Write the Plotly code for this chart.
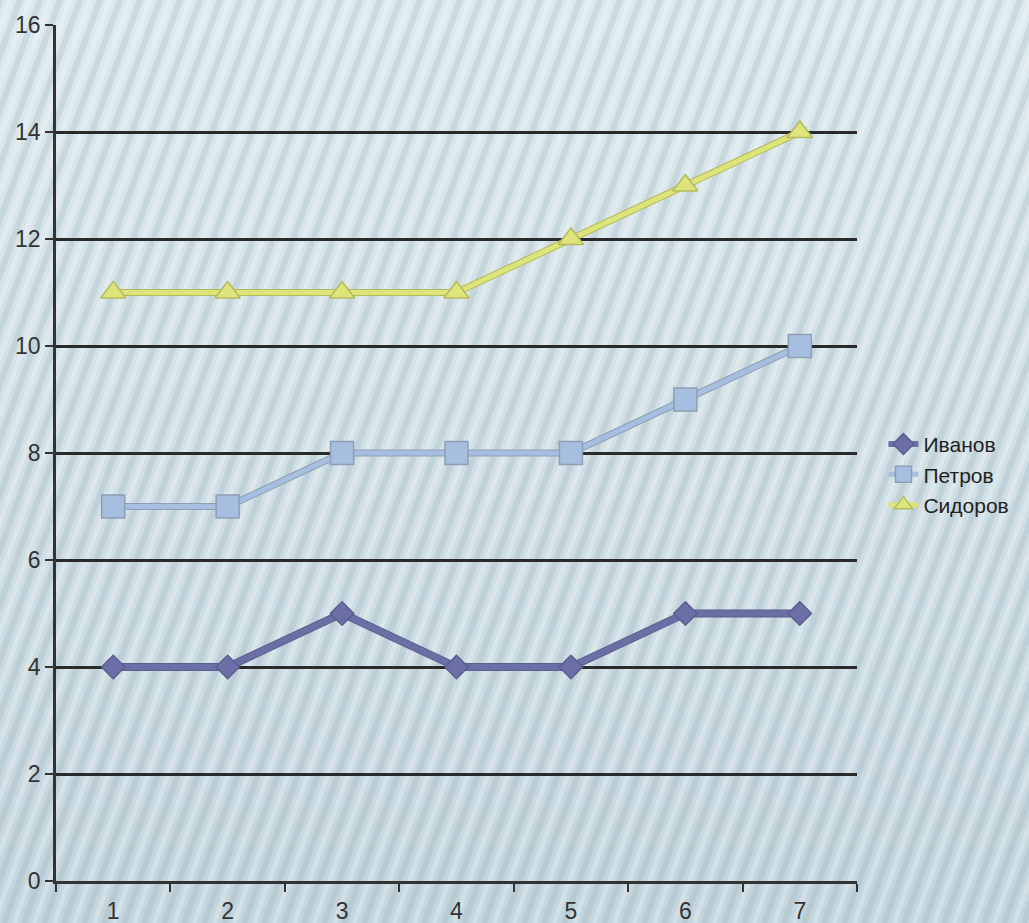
import plotly.graph_objects as go
import math

categories = ["1", "2", "3", "4", "5", "6", "7"]
ivanov = [4, 4, 5, 4, 4, 5, 5]
petrov = [7, 7, 8, 8, 8, 9, 10]
sidorov = [11, 11, 11, 11, 12, 13, 14]
y_ticks = [0, 2, 4, 6, 8, 10, 12, 14, 16]

W, H = 1029, 923
L, R, T, B = 56, 857, 25, 881

fig = go.Figure()

series = [
    ("Иванов", ivanov, "#6b6fa6", "#5a5e8e", "diamond", 18, 6),
    ("Петров", petrov, "#a6bfe0", "#8e9fb4", "square", 23, 5),
    ("Сидоров", sidorov, "#dde47a", "#b5ba5c", "triangle-up", 22, 5),
]
for name, vals, col, edge, sym, size, lw in series:
    fig.add_trace(go.Scatter(
        x=categories, y=vals, name=name, mode="lines",
        line=dict(color=edge, width=lw + 2), showlegend=False, hoverinfo="skip"))
    fig.add_trace(go.Scatter(
        x=categories, y=vals, name=name, mode="lines+markers",
        line=dict(color=col, width=lw),
        marker=dict(symbol=sym, size=size, color=col, line=dict(color=edge, width=1.5))))

def px(X):
    return (X - L) / (R - L)
def py(Y):
    return (B - Y) / (B - T)

shapes = []
# vertical background gradient (decoration)
top = (220, 233, 237)
bot = (196, 214, 221)
n = 24
for i in range(n):
    f = i / (n - 1)
    c = tuple(round(top[k] + (bot[k] - top[k]) * f) for k in range(3))
    y0 = H * i / n
    y1 = H * (i + 1) / n + 1
    shapes.append(dict(type="rect", xref="paper", yref="paper", layer="below",
                       x0=px(0), x1=px(W), y0=py(y1), y1=py(y0),
                       fillcolor="rgb(%d,%d,%d)" % c, line=dict(width=0)))

# diagonal stripes (decoration)
dx = H / math.tan(math.radians(70))
spacing = 20
X = -dx - 40
while X < W + 40:
    shapes.append(dict(type="line", xref="paper", yref="paper", layer="below",
                       x0=px(X), y0=py(H), x1=px(X + dx), y1=py(0),
                       line=dict(color="rgba(140,165,178,0.22)", width=6)))
    shapes.append(dict(type="line", xref="paper", yref="paper", layer="below",
                       x0=px(X + spacing / 2), y0=py(H), x1=px(X + spacing / 2 + dx), y1=py(0),
                       line=dict(color="rgba(255,255,255,0.25)", width=5)))
    X += spacing

fig.update_layout(
    width=W, height=H,
    margin=dict(l=L, r=W - R, t=T, b=H - B, autoexpand=False),
    paper_bgcolor="#d3e2e7",
    plot_bgcolor="rgba(0,0,0,0)",
    font=dict(family="Liberation Sans, Arial, sans-serif", size=23, color="#333333"),
    shapes=shapes,
    showlegend=True,
    legend=dict(x=1.033, y=0.475, xanchor="left", yanchor="middle",
                bgcolor="rgba(0,0,0,0)", font=dict(size=21, color="#222222"),
                tracegroupgap=0, itemwidth=30, borderwidth=0),
    xaxis=dict(type="category", range=[-0.5, 6.5], tickson="boundaries",
               ticks="outside", ticklen=8, tickwidth=2, tickcolor="#333333",
               showline=True, linecolor="#333333", linewidth=2.5,
               tickfont=dict(size=23, color="#333333"), ticklabelstandoff=8,
               automargin=False,
               showgrid=False, zeroline=False, fixedrange=True),
    yaxis=dict(range=[0, 16], tickvals=y_ticks, ticks="outside", ticklen=8,
               tickwidth=2, tickcolor="#333333",
               showline=True, linecolor="#333333", linewidth=2.5,
               tickfont=dict(size=23, color="#333333"), automargin=False,
               showgrid=True, gridcolor="#2a2a2a", gridwidth=2.5,
               zeroline=False, fixedrange=True),
)

fig.write_html("out.html")
